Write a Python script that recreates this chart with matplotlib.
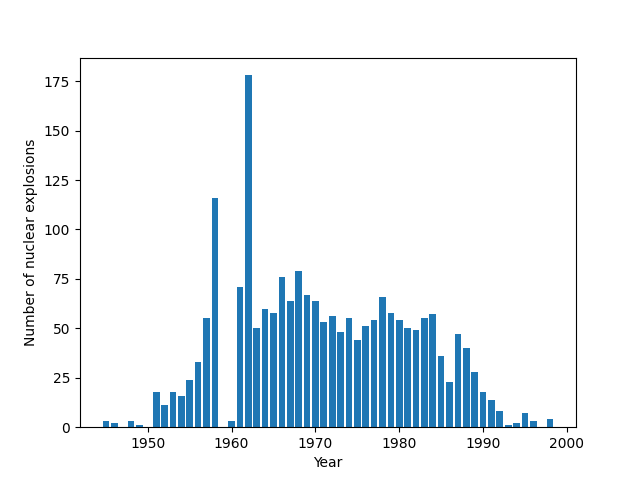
import matplotlib
matplotlib.use("Agg")
import matplotlib.pyplot as plt

# years with at least one explosion
years = [1945, 1946, 1948, 1949, 1951, 1952, 1953, 1954, 1955, 1956, 1957, 1958,
         1960, 1961, 1962, 1963, 1964, 1965, 1966, 1967, 1968, 1969, 1970, 1971,
         1972, 1973, 1974, 1975, 1976, 1977, 1978, 1979, 1980, 1981, 1982, 1983,
         1984, 1985, 1986, 1987, 1988, 1989, 1990, 1991, 1992, 1993, 1994, 1995,
         1996, 1998]
counts = [3, 2, 3, 1, 18, 11, 18, 16, 24, 33, 55, 116,
          3, 71, 178, 50, 60, 58, 76, 64, 79, 67, 64, 53,
          56, 48, 55, 44, 51, 54, 66, 58, 54, 50, 49, 55,
          57, 36, 23, 47, 40, 28, 18, 14, 8, 1, 2, 7,
          3, 4]

fig, ax = plt.subplots(figsize=(6.4, 4.8), dpi=100)
ax.bar(years, counts)
ax.set_xlabel('Year')
ax.set_ylabel('Number of nuclear explosions')

fig.savefig('out.png')
